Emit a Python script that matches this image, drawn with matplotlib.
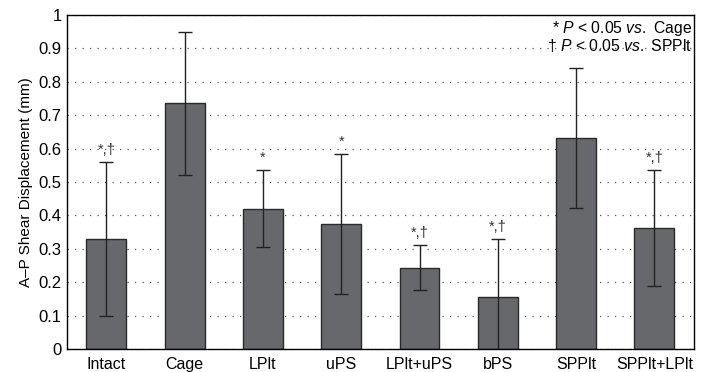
import numpy as np
import matplotlib
matplotlib.use("Agg")
import matplotlib.pyplot as plt

plt.rcParams['font.family'] = ['Liberation Sans', 'DejaVu Sans']
plt.rcParams['mathtext.fontset'] = 'custom'
plt.rcParams['mathtext.it'] = 'Liberation Sans:italic'
plt.rcParams['mathtext.rm'] = 'Liberation Sans'

groups = ['Intact', 'Cage', 'LPlt', 'uPS', 'LPlt+uPS', 'bPS', 'SPPlt', 'SPPlt+LPlt']
means = [0.330, 0.736, 0.420, 0.374, 0.243, 0.155, 0.632, 0.362]
sds = [0.230, 0.214, 0.115, 0.211, 0.068, 0.175, 0.209, 0.173]
marks = ['*,\u2020', '', '*', '*', '*,\u2020', '*,\u2020', '', '*,\u2020']

fig = plt.figure(figsize=(7.07, 3.72), dpi=100)
ax = fig.add_axes([0.095, 0.062, 0.886, 0.898])

x = np.arange(len(groups))
ax.bar(x, means, width=0.51, color='#67686c', edgecolor='#2a2a2a', linewidth=1.0, zorder=2)
ax.errorbar(x, means, yerr=sds, fmt='none', ecolor='#222222', elinewidth=1.0,
            capsize=5, capthick=1.0, zorder=3)

for xi, m, s, t in zip(x, means, sds, marks):
    if t:
        ax.text(xi, m + s + 0.015, t, ha='center', va='bottom', fontsize=10.5, color='#333333')

ax.set_xlim(-0.5, 7.5)
ax.set_ylim(0, 1)
ax.set_yticks(np.arange(0, 1.01, 0.1))
ax.set_yticklabels(['0', '0.1', '0.2', '0.3', '0.4', '0.5', '0.6', '0.7', '0.8', '0.9', '1'])
ax.set_xticks(x)
ax.set_xticklabels(groups)
ax.tick_params(axis='x', length=0, labelsize=11.5, pad=6)
ax.tick_params(axis='y', length=0, labelsize=12, pad=4)
ax.yaxis.grid(True, linestyle=(0, (1, 5)), color='#555555', linewidth=0.9, zorder=0)
ax.set_axisbelow(True)
ax.set_ylabel('A\u2013P Shear Displacement (mm)', fontsize=11)
for sp in ax.spines.values():
    sp.set_linewidth(1.0)

ax.text(0.997, 0.988, r'* $\it{P}$ < 0.05 $\it{vs.}$ Cage', transform=ax.transAxes,
        ha='right', va='top', fontsize=11.3)
ax.text(0.997, 0.935, '\u2020 ' + r'$\it{P}$ < 0.05 $\it{vs.}$ SPPlt', transform=ax.transAxes,
        ha='right', va='top', fontsize=11.3)

fig.savefig('out.png', dpi=100)
